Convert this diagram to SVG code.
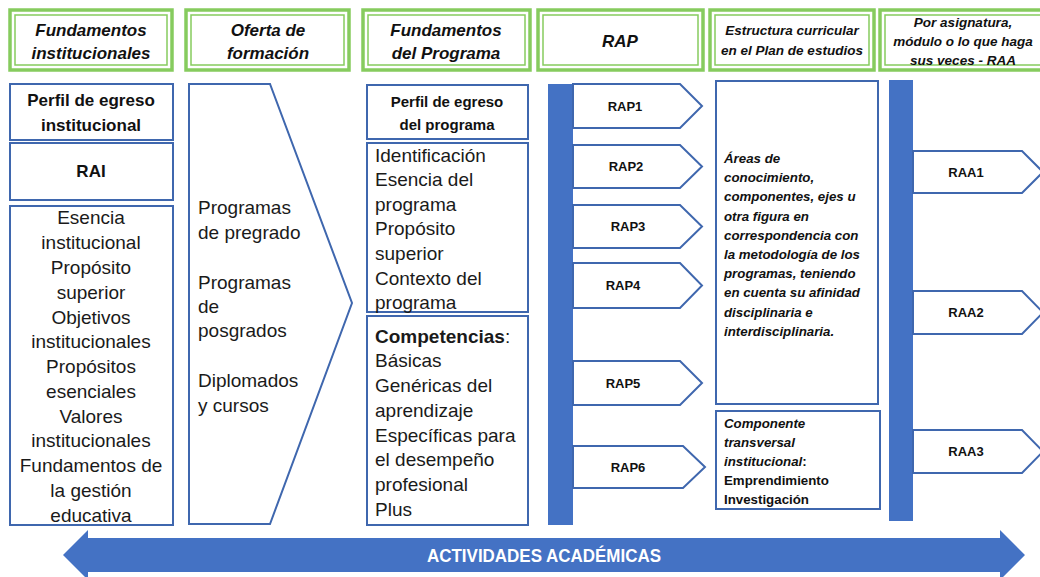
<svg xmlns="http://www.w3.org/2000/svg" width="1040" height="577" viewBox="0 0 1040 577">
<style>
.hdo{fill:#fff;stroke:#86CB5E;stroke-width:3.5}
.hdi{fill:none;stroke:#86CB5E;stroke-width:1.5}
.ht{font-family:"Liberation Sans",Arial,sans-serif;font-weight:bold;font-style:italic;fill:#111;text-anchor:middle}
.box{fill:#fff;stroke:#3F67AE;stroke-width:2}
.bar{fill:#4472C4}
.t{font-family:"Liberation Sans",Arial,sans-serif;font-size:19px;fill:#1a1a1a}
.b{font-family:"Liberation Sans",Arial,sans-serif;font-weight:bold;fill:#111}
.bi{font-family:"Liberation Sans",Arial,sans-serif;font-weight:bold;font-style:italic;font-size:13.3px;fill:#111}
.c{text-anchor:middle}
.lbl{font-family:"Liberation Sans",Arial,sans-serif;font-weight:bold;font-size:13px;fill:#111;text-anchor:middle}
</style>

<!-- Header row -->
<g id="h1"><rect class="hdo" x="10" y="10" width="162" height="60"/><rect class="hdi" x="15" y="15" width="152" height="50"/>
<text class="ht" font-size="17" x="91" y="36">Fundamentos</text><text class="ht" font-size="17" x="91" y="59">institucionales</text></g>
<g id="h2"><rect class="hdo" x="186" y="10" width="163" height="60"/><rect class="hdi" x="191" y="15" width="153" height="50"/>
<text class="ht" font-size="17" x="268" y="36">Oferta de</text><text class="ht" font-size="17" x="268" y="59">formación</text></g>
<g id="h3"><rect class="hdo" x="363" y="10" width="167" height="60"/><rect class="hdi" x="368" y="15" width="157" height="50"/>
<text class="ht" font-size="17" x="446" y="36">Fundamentos</text><text class="ht" font-size="17" x="446" y="59">del Programa</text></g>
<g id="h4"><rect class="hdo" x="538" y="10" width="165" height="60"/><rect class="hdi" x="543" y="15" width="155" height="50"/>
<text class="ht" font-size="17" x="620" y="47">RAP</text></g>
<g id="h5"><rect class="hdo" x="710" y="10" width="164" height="60"/><rect class="hdi" x="715" y="15" width="154" height="50"/>
<text class="ht" font-size="13.5" x="792" y="35">Estructura curricular</text><text class="ht" font-size="13.5" x="792" y="55">en el Plan de estudios</text></g>
<g id="h6"><rect class="hdo" x="880" y="10" width="170" height="60"/><rect class="hdi" x="885" y="15" width="160" height="50"/>
<text class="ht" font-size="13.5" x="963" y="27">Por asignatura,</text><text class="ht" font-size="13.5" x="963" y="46">módulo o lo que haga</text><text class="ht" font-size="13.5" x="963" y="65">sus veces - RAA</text></g>

<!-- Column 1 -->
<g id="perfil-inst"><rect class="box" x="10" y="84" width="163" height="56"/>
<text class="b c" font-size="17" x="91" y="106">Perfil de egreso</text><text class="b c" font-size="17" x="91" y="131">institucional</text></g>
<g id="rai"><rect class="box" x="10" y="143" width="163" height="57"/>
<text class="b c" font-size="17" x="91" y="177">RAI</text></g>
<g id="esencia-inst"><rect class="box" x="10" y="206" width="163" height="319"/>
<text class="t c" x="91" y="224">Esencia</text>
<text class="t c" x="91" y="249">institucional</text>
<text class="t c" x="91" y="274">Propósito</text>
<text class="t c" x="91" y="299">superior</text>
<text class="t c" x="91" y="324">Objetivos</text>
<text class="t c" x="91" y="348">institucionales</text>
<text class="t c" x="91" y="373">Propósitos</text>
<text class="t c" x="91" y="398">esenciales</text>
<text class="t c" x="91" y="423">Valores</text>
<text class="t c" x="91" y="447">institucionales</text>
<text class="t c" x="91" y="472">Fundamentos de</text>
<text class="t c" x="91" y="497">la gestión</text>
<text class="t c" x="91" y="522">educativa</text></g>

<!-- Column 2 -->
<g id="oferta"><path class="box" d="M189,84 L270,84 L352,303 L270,524 L189,524 Z"/>
<text class="t" x="198" y="214">Programas</text>
<text class="t" x="198" y="239">de pregrado</text>
<text class="t" x="198" y="289">Programas</text>
<text class="t" x="198" y="313">de</text>
<text class="t" x="198" y="337">posgrados</text>
<text class="t" x="198" y="387">Diplomados</text>
<text class="t" x="198" y="412">y cursos</text></g>

<!-- Column 3 -->
<g id="perfil-prog"><rect class="box" x="367" y="85" width="161" height="54"/>
<text class="b c" font-size="15" x="447" y="107">Perfil de egreso</text><text class="b c" font-size="15" x="447" y="130">del programa</text></g>
<g id="identificacion"><rect class="box" x="367" y="143" width="161" height="169"/>
<text class="t" x="375" y="162">Identificación</text>
<text class="t" x="375" y="186">Esencia del</text>
<text class="t" x="375" y="211">programa</text>
<text class="t" x="375" y="235">Propósito</text>
<text class="t" x="375" y="260">superior</text>
<text class="t" x="375" y="285">Contexto del</text>
<text class="t" x="375" y="309">programa</text></g>
<g id="competencias"><rect class="box" x="367" y="316" width="161" height="209"/>
<text class="t" x="375" y="343"><tspan font-weight="bold">Competencias</tspan>:</text>
<text class="t" x="375" y="367">Básicas</text>
<text class="t" x="375" y="392">Genéricas del</text>
<text class="t" x="375" y="417">aprendizaje</text>
<text class="t" x="375" y="442">Específicas para</text>
<text class="t" x="375" y="466">el desempeño</text>
<text class="t" x="375" y="491">profesional</text>
<text class="t" x="375" y="516">Plus</text></g>

<!-- Column 4: RAP -->
<g id="rap-bar"><rect class="bar" x="548" y="84" width="25" height="441"/></g>
<g id="rap1"><path class="box" d="M573,84 L680,84 L702,106 L680,128 L573,128 Z"/><text class="lbl" x="625" y="111">RAP1</text></g>
<g id="rap2"><path class="box" d="M573,145 L680,145 L702,166.5 L680,188 L573,188 Z"/><text class="lbl" x="626" y="171">RAP2</text></g>
<g id="rap3"><path class="box" d="M573,205 L680,205 L702,226.5 L680,248 L573,248 Z"/><text class="lbl" x="628" y="231">RAP3</text></g>
<g id="rap4"><path class="box" d="M573,263 L680,263 L702,285.5 L680,308 L573,308 Z"/><text class="lbl" x="623" y="290">RAP4</text></g>
<g id="rap5"><path class="box" d="M573,361 L680,361 L702,383 L680,405 L573,405 Z"/><text class="lbl" x="623" y="388">RAP5</text></g>
<g id="rap6"><path class="box" d="M573,446 L683,446 L705,467 L683,488 L573,488 Z"/><text class="lbl" x="628" y="472">RAP6</text></g>

<!-- Column 5 -->
<g id="areas"><rect class="box" x="716" y="81" width="162" height="323"/>
<text class="bi" x="724" y="163">Áreas de</text>
<text class="bi" x="724" y="182">conocimiento,</text>
<text class="bi" x="724" y="201">componentes, ejes u</text>
<text class="bi" x="724" y="221">otra figura en</text>
<text class="bi" x="724" y="240">correspondencia con</text>
<text class="bi" x="724" y="259">la metodología de los</text>
<text class="bi" x="724" y="278">programas, teniendo</text>
<text class="bi" x="724" y="297">en cuenta su afinidad</text>
<text class="bi" x="724" y="317">disciplinaria e</text>
<text class="bi" x="724" y="336">interdisciplinaria.</text></g>
<g id="componente"><rect class="box" x="716" y="411" width="164" height="98"/>
<text class="bi" x="724" y="428">Componente</text>
<text class="bi" x="724" y="447">transversal</text>
<text class="bi" x="724" y="466">institucional<tspan font-style="normal">:</tspan></text>
<text class="b" font-size="13.3" x="724" y="485">Emprendimiento</text>
<text class="b" font-size="13.3" x="724" y="504">Investigación</text></g>

<!-- Column 6: RAA -->
<g id="raa-bar"><rect class="bar" x="889" y="80" width="24" height="441"/></g>
<g id="raa1"><path class="box" d="M913,151 L1022,151 L1043,172 L1022,193 L913,193 Z"/><text class="lbl" x="966" y="177">RAA1</text></g>
<g id="raa2"><path class="box" d="M913,291 L1022,291 L1043,312.5 L1022,334 L913,334 Z"/><text class="lbl" x="966" y="317">RAA2</text></g>
<g id="raa3"><path class="box" d="M913,430 L1022,430 L1043,451.5 L1022,473 L913,473 Z"/><text class="lbl" x="966" y="456">RAA3</text></g>

<!-- Connectors -->
<g id="connectors">
<g id="actividades"><path fill="#4472C4" d="M63,555 L88,530 L88,538 L1000,538 L1000,530 L1025,555 L1000,580 L1000,572 L88,572 L88,580 Z"/>
<text x="544" y="562" font-family="'Liberation Sans Narrow','Liberation Sans',Arial,sans-serif" font-weight="bold" font-size="18" fill="#fff" text-anchor="middle" textLength="234" lengthAdjust="spacingAndGlyphs">ACTIVIDADES ACADÉMICAS</text></g>
</g>
</svg>
